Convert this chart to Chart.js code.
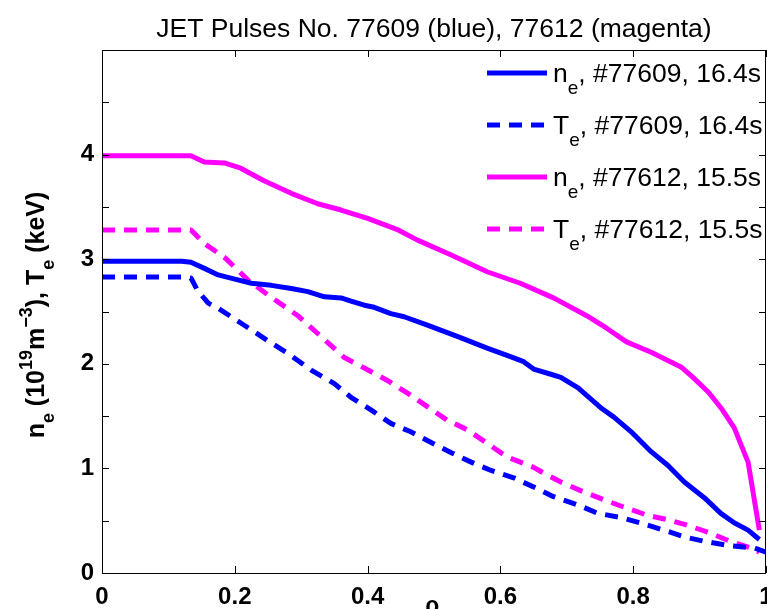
<!DOCTYPE html>
<html>
<head>
<meta charset="utf-8">
<script src="https://cdn.jsdelivr.net/npm/chart.js@4.4.0/dist/chart.umd.min.js"></script>
<style>
  html, body { margin: 0; padding: 0; background: #fff; }
  #wrap { width: 767px; height: 609px; position: relative; }
</style>
</head>
<body>
<div id="wrap"><canvas id="profiles"></canvas></div>
<script>
// values
const rhoNe77609 = [0, 0.12, 0.134, 0.155, 0.175, 0.2, 0.225, 0.255, 0.285, 0.31, 0.335, 0.36, 0.375, 0.395, 0.41, 0.435, 0.455, 0.49, 0.536, 0.58, 0.61, 0.635, 0.65, 0.676, 0.691, 0.717, 0.751, 0.771, 0.797, 0.827, 0.852, 0.877, 0.907, 0.932, 0.952, 0.973, 0.99];
const ne77609 = [2.98, 2.98, 2.97, 2.91, 2.85, 2.81, 2.77, 2.75, 2.72, 2.69, 2.64, 2.63, 2.6, 2.56, 2.54, 2.48, 2.45, 2.37, 2.26, 2.15, 2.08, 2.02, 1.95, 1.9, 1.87, 1.77, 1.58, 1.49, 1.35, 1.16, 1.03, 0.87, 0.72, 0.57, 0.48, 0.41, 0.32];

const rhoTe77609 = [0, 0.12, 0.134, 0.144, 0.16, 0.175, 0.209, 0.25, 0.28, 0.315, 0.35, 0.375, 0.405, 0.435, 0.465, 0.495, 0.526, 0.556, 0.586, 0.62, 0.661, 0.68, 0.717, 0.747, 0.782, 0.81, 0.846, 0.88, 0.91, 0.947, 0.982, 1.0];
const te77609 = [2.83, 2.83, 2.82, 2.7, 2.58, 2.53, 2.39, 2.22, 2.1, 1.94, 1.81, 1.68, 1.56, 1.43, 1.35, 1.25, 1.15, 1.06, 0.98, 0.91, 0.79, 0.73, 0.65, 0.57, 0.53, 0.48, 0.41, 0.34, 0.3, 0.26, 0.24, 0.2];

const rhoNe77612 = [0, 0.12, 0.134, 0.154, 0.184, 0.209, 0.244, 0.285, 0.325, 0.36, 0.4, 0.446, 0.476, 0.526, 0.58, 0.63, 0.68, 0.73, 0.76, 0.79, 0.827, 0.872, 0.89, 0.913, 0.932, 0.952, 0.973, 0.99];
const ne77612 = [3.99, 3.99, 3.99, 3.93, 3.92, 3.87, 3.75, 3.63, 3.53, 3.47, 3.39, 3.28, 3.18, 3.04, 2.88, 2.77, 2.63, 2.46, 2.34, 2.21, 2.11, 1.97, 1.87, 1.73, 1.58, 1.39, 1.06, 0.41];

const rhoTe77612 = [0, 0.134, 0.154, 0.184, 0.22, 0.254, 0.295, 0.33, 0.365, 0.395, 0.43, 0.46, 0.49, 0.52, 0.55, 0.58, 0.61, 0.65, 0.661, 0.691, 0.72, 0.756, 0.786, 0.822, 0.852, 0.88, 0.917, 0.947, 0.977, 0.99];
const te77612 = [3.28, 3.28, 3.15, 3.02, 2.8, 2.64, 2.46, 2.26, 2.06, 1.96, 1.84, 1.72, 1.59, 1.46, 1.37, 1.24, 1.11, 1.01, 0.97, 0.87, 0.79, 0.7, 0.63, 0.55, 0.51, 0.46, 0.38, 0.3, 0.24, 0.2];

const xTicks = [0, 0.2, 0.4, 0.6, 0.8, 1];
const yTicks = [0, 0.5, 1, 1.5, 2, 2.5, 3, 3.5, 4, 4.5, 5];
const yLabelled = [0, 1, 2, 3, 4];

// legend entries: [main letter, subscript, rest]
const legendParts = [
  ["n", "e", ", #77609, 16.4s"],
  ["T", "e", ", #77609, 16.4s"],
  ["n", "e", ", #77612, 15.5s"],
  ["T", "e", ", #77612, 15.5s"],
];

const titleText = "JET Pulses No. 77609 (blue), 77612 (magenta)";
const BLUE = "#0000ff";
const MAGENTA = "#ff00ff";
const DASH = [13, 9];
const FONT = "'Liberation Sans', Arial, sans-serif";

function pairs(xs, ys) {
  return xs.map((x, i) => ({ x: x, y: ys[i] }));
}

function series(label, xs, ys, color, dashed) {
  return {
    label: label,
    data: pairs(xs, ys),
    borderColor: color,
    backgroundColor: color,
    borderWidth: 5,
    borderDash: dashed ? DASH : [],
    borderJoinStyle: "round",
    pointRadius: 0,
    tension: 0,
    showLine: true,
  };
}

const decorations = {
  id: "decorations",
  afterDraw(chart) {
    const ctx = chart.ctx;
    const area = chart.chartArea;
    const xs = chart.scales.x;
    const ys = chart.scales.y;
    ctx.save();

    // box with inward ticks
    ctx.strokeStyle = "#000";
    ctx.lineWidth = 1;
    ctx.strokeRect(area.left + 0.5, area.top + 0.5, area.right - area.left - 1, area.bottom - area.top);
    ctx.beginPath();
    const tl = 7;
    xTicks.forEach((v) => {
      const px = Math.round(xs.getPixelForValue(v)) + 0.5;
      ctx.moveTo(px, area.bottom);
      ctx.lineTo(px, area.bottom - tl);
      ctx.moveTo(px, area.top);
      ctx.lineTo(px, area.top + tl);
    });
    yTicks.forEach((v) => {
      const py = Math.round(ys.getPixelForValue(v)) + 0.5;
      ctx.moveTo(area.left, py);
      ctx.lineTo(area.left + tl, py);
      ctx.moveTo(area.right, py);
      ctx.lineTo(area.right - tl, py);
    });
    ctx.stroke();

    // title
    ctx.fillStyle = "#000";
    ctx.textAlign = "center";
    ctx.textBaseline = "alphabetic";
    ctx.font = "26.5px " + FONT;
    ctx.fillText(titleText, (area.left + area.right) / 2, 37);

    // x axis title
    ctx.font = "bold 23px " + FONT;
    ctx.fillText("\u03c1", 432, 613);

    // y axis title, rotated, with sub/superscripts
    const big = "bold 25px " + FONT;
    const small = "bold 18px " + FONT;
    const pieces = [
      ["n", big, 0], ["e", small, 10], [" (10", big, 0], ["19", small, -12],
      ["m", big, 0], ["\u22123", small, -12], ["), T", big, 0], ["e", small, 10], [" (keV)", big, 0],
    ];
    let total = 0;
    pieces.forEach((p) => { ctx.font = p[1]; total += ctx.measureText(p[0]).width; });
    ctx.translate(44, 315);
    ctx.rotate(-Math.PI / 2);
    ctx.textAlign = "left";
    let cx = -total / 2;
    pieces.forEach((p) => {
      ctx.font = p[1];
      ctx.fillText(p[0], cx, p[2]);
      cx += ctx.measureText(p[0]).width;
    });
    ctx.setTransform(1, 0, 0, 1, 0, 0);

    // legend
    const styles = chart.data.datasets;
    const rowY = [73, 125, 177, 229];
    legendParts.forEach((parts, i) => {
      const y = rowY[i];
      const ds = styles[i];
      ctx.beginPath();
      ctx.strokeStyle = ds.borderColor;
      ctx.lineWidth = 5;
      ctx.setLineDash(ds.borderDash);
      ctx.moveTo(487, y);
      ctx.lineTo(547, y);
      ctx.stroke();
      ctx.setLineDash([]);
      ctx.fillStyle = "#000";
      let tx = 553;
      ctx.font = "26.5px " + FONT;
      ctx.fillText(parts[0], tx, y + 9);
      tx += ctx.measureText(parts[0]).width;
      ctx.font = "19px " + FONT;
      ctx.fillText(parts[1], tx, y + 21);
      tx += ctx.measureText(parts[1]).width;
      ctx.font = "26.5px " + FONT;
      ctx.fillText(parts[2], tx, y + 9);
    });

    ctx.restore();
  },
};

new Chart(document.getElementById("profiles"), {
  type: "scatter",
  data: {
    datasets: [
      series("ne #77609", rhoNe77609, ne77609, BLUE, false),
      series("Te #77609", rhoTe77609, te77609, BLUE, true),
      series("ne #77612", rhoNe77612, ne77612, MAGENTA, false),
      series("Te #77612", rhoTe77612, te77612, MAGENTA, true),
    ],
  },
  options: {
    responsive: true,
    maintainAspectRatio: false,
    animation: false,
    layout: { padding: { top: 50, right: 1, left: 0, bottom: 0 } },
    plugins: {
      legend: { display: false },
      title: { display: false },
      tooltip: { enabled: false },
    },
    scales: {
      x: {
        type: "linear",
        min: 0,
        max: 1,
        grid: { display: false, drawTicks: false },
        border: { display: false },
        afterBuildTicks(scale) {
          scale.ticks = xTicks.map((v) => ({ value: v }));
        },
        afterFit(scale) {
          scale.height = 36;
          scale.paddingLeft = 0;
          scale.paddingRight = 0;
        },
        ticks: {
          color: "#000",
          padding: 10,
          maxRotation: 0,
          autoSkip: false,
          font: { family: FONT, size: 24, weight: "bold" },
          callback: (v) => (v === 0 || v === 1 ? String(v) : v.toFixed(1)),
        },
      },
      y: {
        type: "linear",
        min: 0,
        max: 5,
        grid: { display: false, drawTicks: false },
        border: { display: false },
        afterBuildTicks(scale) {
          scale.ticks = yTicks.map((v) => ({ value: v }));
        },
        afterFit(scale) {
          scale.width = 102;
          scale.paddingTop = 0;
          scale.paddingBottom = 0;
        },
        ticks: {
          color: "#000",
          padding: 8,
          autoSkip: false,
          font: { family: FONT, size: 24, weight: "bold" },
          callback: (v) => (yLabelled.includes(v) ? String(v) : ""),
        },
      },
    },
  },
  plugins: [decorations],
});
</script>
</body>
</html>
